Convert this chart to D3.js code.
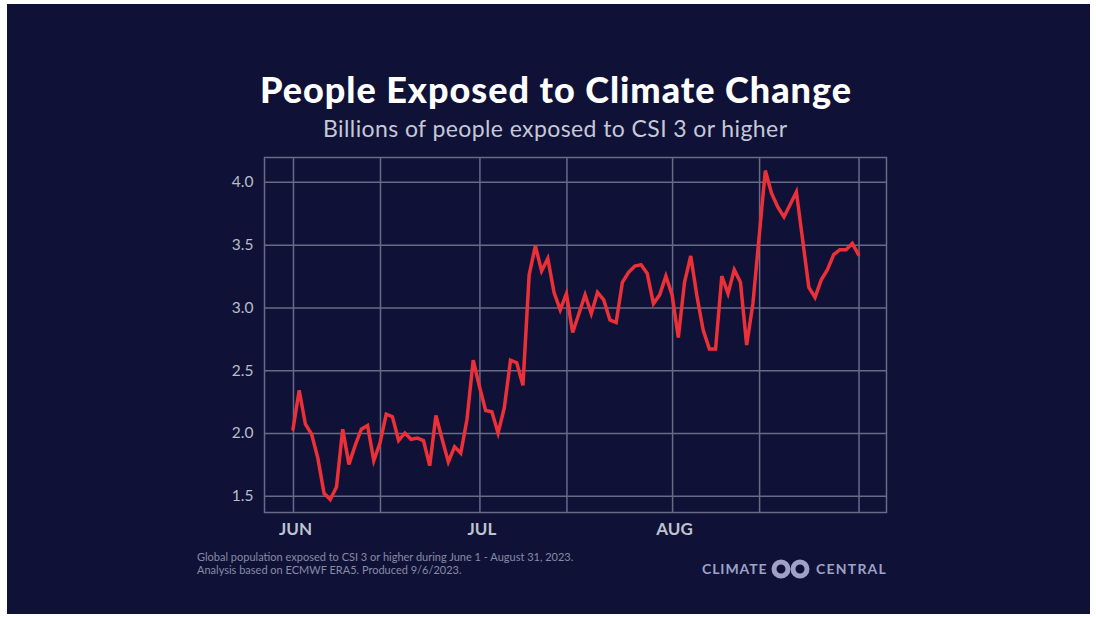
<!DOCTYPE html>
<html>
<head>
<meta charset="utf-8">
<script src="https://cdn.jsdelivr.net/npm/d3@7"></script>
<style>
  html, body { margin: 0; padding: 0; background: #ffffff; }
  svg { display: block; font-family: Lato, "Open Sans", sans-serif; }
</style>
</head>
<body>
<div id="chart"></div>
<script>
// daily values, Jun 1 - Aug 31 2023 (billions of people, CSI >= 3)
const startDay = '2023-06-01';
const values = [
  2.03, 2.34, 2.07, 1.99, 1.80, 1.52, 1.47, 1.57, 2.03, 1.75,
  1.90, 2.03, 2.06, 1.78, 1.92, 2.15, 2.13, 1.94, 2.00, 1.95,
  1.96, 1.94, 1.74, 2.14, 1.95, 1.77, 1.89, 1.84, 2.11, 2.58,
  2.37, 2.18, 2.17, 2.00, 2.20, 2.58, 2.56, 2.38, 3.26, 3.49,
  3.29, 3.39, 3.12, 2.98, 3.11, 2.80, 2.95, 3.10, 2.95, 3.12,
  3.06, 2.90, 2.88, 3.20, 3.28, 3.33, 3.34, 3.27, 3.03, 3.10,
  3.25, 3.10, 2.76, 3.20, 3.41, 3.09, 2.82, 2.67, 2.67, 3.25,
  3.11, 3.30, 3.20, 2.70, 3.03, 3.56, 4.09, 3.91, 3.80, 3.72,
  3.82, 3.92, 3.54, 3.16, 3.08, 3.22, 3.30, 3.42, 3.46, 3.46,
  3.51, 3.42
];
const gridDates = ['2023-06-01', '2023-06-15', '2023-07-01', '2023-07-15', '2023-08-01', '2023-08-15', '2023-08-31'];
const monthLabels = ['JUN', 'JUL', 'AUG'];
const monthDates = ['2023-06-01', '2023-07-01', '2023-08-01'];
const yTicks = [1.5, 2.0, 2.5, 3.0, 3.5, 4.0];

const width = 1096;
const height = 617;
const plot = {left: 264.5, right: 886.5, top: 157.5, bottom: 512.5};

const parse = d3.utcParse('%Y-%m-%d');
const start = parse(startDay);
const data = values.map((v, i) => ({date: d3.utcDay.offset(start, i), value: v}));

const svg = d3.select('#chart')
  .append('svg')
  .attr('width', width)
  .attr('height', height);

// dark panel
svg.append('rect')
  .attr('x', 7)
  .attr('y', 4)
  .attr('width', 1083)
  .attr('height', 610)
  .attr('fill', '#0f1236');

const x = d3.scaleUtc()
  .domain([new Date(Date.UTC(2023, 4, 27, 10)), new Date(Date.UTC(2023, 8, 4, 12))])
  .range([plot.left, plot.right]);

const y = d3.scaleLinear()
  .domain([1.367, 4.194])
  .range([plot.bottom, plot.top]);

const gridColor = '#676b86';

// horizontal grid + y labels
const yAxis = d3.axisLeft(y)
  .tickValues(yTicks)
  .tickFormat(d3.format('.1f'))
  .tickSize(-(plot.right - plot.left))
  .tickPadding(11);

svg.append('g')
  .attr('transform', 'translate(' + plot.left + ',0)')
  .call(yAxis)
  .call(g => g.select('.domain').remove())
  .call(g => g.selectAll('line').attr('stroke', gridColor).attr('stroke-width', 1.5))
  .call(g => g.selectAll('text')
    .attr('fill', '#b9bccb')
    .attr('font-size', 15.5)
    .attr('font-family', 'Lato, sans-serif'));

// vertical grid
const xGrid = d3.axisBottom(x)
  .tickValues(gridDates.map(parse))
  .tickFormat('')
  .tickSize(-(plot.bottom - plot.top));

svg.append('g')
  .attr('transform', 'translate(0,' + plot.bottom + ')')
  .call(xGrid)
  .call(g => g.select('.domain').remove())
  .call(g => g.selectAll('line').attr('stroke', gridColor).attr('stroke-width', 1.5));

// month labels
const xLabels = d3.axisBottom(x)
  .tickValues(monthDates.map(parse))
  .tickFormat((d, i) => monthLabels[i])
  .tickSize(0)
  .tickPadding(10);

svg.append('g')
  .attr('transform', 'translate(2,' + plot.bottom + ')')
  .call(xLabels)
  .call(g => g.select('.domain').remove())
  .call(g => g.selectAll('text')
    .attr('fill', '#bfc2cf')
    .attr('font-size', 17)
    .attr('font-weight', 700)
    .attr('font-family', 'Lato, sans-serif'));

// frame
svg.append('rect')
  .attr('x', plot.left)
  .attr('y', plot.top)
  .attr('width', plot.right - plot.left)
  .attr('height', plot.bottom - plot.top)
  .attr('fill', 'none')
  .attr('stroke', gridColor)
  .attr('stroke-width', 1.5);

// the line
const line = d3.line()
  .x(d => x(d.date))
  .y(d => y(d.value));

svg.append('path')
  .datum(data)
  .attr('d', line)
  .attr('fill', 'none')
  .attr('stroke', '#ec3038')
  .attr('stroke-width', 3.5)
  .attr('stroke-linejoin', 'miter')
  .attr('stroke-linecap', 'round');

// titles
svg.append('text')
  .attr('x', 555.5)
  .attr('y', 103)
  .attr('text-anchor', 'middle')
  .attr('fill', '#ffffff')
  .attr('font-size', 36)
  .attr('font-weight', 900)
  .attr('textLength', 591)
  .attr('lengthAdjust', 'spacing')
  .text('People Exposed to Climate Change');

svg.append('text')
  .attr('x', 555)
  .attr('y', 137)
  .attr('text-anchor', 'middle')
  .attr('fill', '#c6c8d8')
  .attr('font-size', 23)
  .attr('textLength', 464)
  .attr('lengthAdjust', 'spacing')
  .text('Billions of people exposed to CSI 3 or higher');

// footnote
const notes = [
  'Global population exposed to CSI 3 or higher during June 1 - August 31, 2023.',
  'Analysis based on ECMWF ERA5. Produced 9/6/2023.'
];
svg.append('g')
  .selectAll('text')
  .data(notes)
  .join('text')
  .attr('x', 197)
  .attr('y', (d, i) => 561 + i * 12.5)
  .attr('fill', '#878ba6')
  .attr('font-size', 11)
  .text(d => d);

// logo
const logo = svg.append('g').attr('fill', '#9ea2c6');
logo.append('text')
  .attr('x', 702)
  .attr('y', 574)
  .attr('font-size', 14)
  .attr('font-weight', 700)
  .attr('letter-spacing', 0.9)
  .text('CLIMATE');
logo.append('text')
  .attr('x', 887)
  .attr('y', 574)
  .attr('text-anchor', 'end')
  .attr('font-size', 14)
  .attr('font-weight', 700)
  .attr('letter-spacing', 1.2)
  .text('CENTRAL');
[781, 800].forEach(cx => {
  logo.append('circle')
    .attr('cx', cx)
    .attr('cy', 569)
    .attr('r', 7)
    .attr('fill', 'none')
    .attr('stroke', '#9ea2c6')
    .attr('stroke-width', 5);
});
</script>
</body>
</html>
